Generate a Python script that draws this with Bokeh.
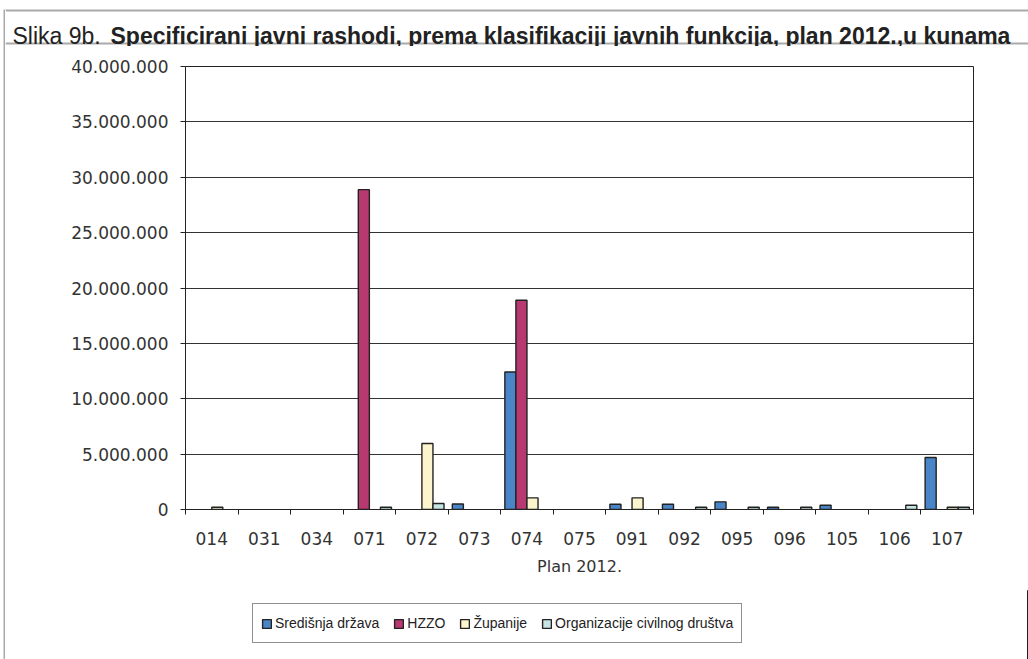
from bokeh.plotting import figure
from bokeh.layouts import column, row
from bokeh.models import (Range1d, FixedTicker, Legend, LegendItem, ColumnDataSource)
from bokeh.transform import dodge
from bokeh.core.properties import value
from bokeh.embed import file_html
from bokeh.resources import INLINE

# ---- data -------------------------------------------------------------
categories = ["014", "031", "034", "071", "072", "073", "074", "075",
              "091", "092", "095", "096", "105", "106", "107"]
sredisnja_drzava = [0, 0, 0, 0, 0, 500000, 12420000, 0,
                    480000, 480000, 690000, 200000, 390000, 0, 4690000]
hzzo = [0, 0, 0, 28880000, 0, 0, 18890000, 0,
        0, 0, 0, 0, 0, 0, 0]
zupanije = [200000, 0, 0, 0, 5960000, 0, 1050000, 0,
            1050000, 0, 0, 0, 0, 0, 200000]
organizacije = [0, 0, 0, 200000, 540000, 0, 0, 0,
                0, 200000, 200000, 200000, 0, 390000, 200000]
series_names = ["Središnja država", "HZZO", "Županije", "Organizacije civilnog društva"]
series_colors = ["#4a86c7", "#b8396f", "#fbf4cd", "#c6e4e2"]
y_ticks = [0, 5000000, 10000000, 15000000, 20000000, 25000000, 30000000, 35000000, 40000000]
x_axis_label = "Plan 2012."
title_prefix = "Slika 9b."
title_main = "Specificirani javni rashodi, prema klasifikaciji javnih funkcija, plan 2012.,u kunama"

W = 1028
H = 659
TITLE_H = 46
MAIN_H = 544
LEG_H = 69
STRIP_W = 5
CW = W - STRIP_W
gray = "#aaaaaa"
dark = "#222222"
sans = "Liberation Sans"


def blank(width, height, xr, yr):
    f = figure(width=width, height=height, output_backend="svg", toolbar_location=None,
               x_range=xr, y_range=yr, title=None,
               x_axis_type=None, y_axis_type=None, min_border=0,
               min_border_top=0, min_border_bottom=0, min_border_left=0, min_border_right=0)
    f.frame_align = False
    f.outline_line_color = None
    f.background_fill_color = "white"
    f.border_fill_color = "white"
    return f


# ---- left border strip (full height) ---------------------------------------
s = blank(STRIP_W, H, Range1d(0, STRIP_W), Range1d(H, 0))
s.quad(left=[3], right=[5], top=[9], bottom=[H], fill_color=gray, line_color=None)

# ---- title bar ----------------------------------------------------------
t = blank(CW, TITLE_H, Range1d(0, CW), Range1d(TITLE_H, 0))
t.quad(left=[0, 0], right=[CW, CW], top=[9, 42], bottom=[11, 44],
       fill_color=gray, line_color=None)
t.text(x=[7], y=[35], text=[title_prefix], text_font=value(sans), text_font_size="23px",
       text_color=dark, text_baseline="alphabetic", text_font_style="normal")
t.text(x=[105], y=[35], text=[title_main], text_font=value(sans), text_font_size="23px",
       text_color=dark, text_baseline="alphabetic", text_font_style="bold")

# ---- main chart -----------------------------------------------------------
n = len(categories)
p = figure(width=CW, height=MAIN_H, output_backend="svg", toolbar_location=None,
           x_range=Range1d(0, n), y_range=Range1d(0, 40000000), title=None,
           min_border_left=180, min_border_right=55, min_border_top=20, min_border_bottom=81)
p.frame_align = False
p.background_fill_color = "white"
p.border_fill_color = "white"
p.outline_line_color = dark
p.outline_line_width = 1

centers = [i + 0.5 for i in range(n)]
data = dict(x=centers)
all_series = [sredisnja_drzava, hzzo, zupanije, organizacije]
for k, ser in enumerate(all_series):
    data["s%d" % k] = [v if v else float("nan") for v in ser]
src = ColumnDataSource(data)

bar_w = 1 / 4.75
bar_kw = [dict(x=dodge("x", (k - 1.5) * bar_w, range=None), top="s%d" % k, bottom=0,
               width=bar_w, source=src, fill_color=series_colors[k],
               line_color=dark, line_width=1.4) for k in range(4)]
for kw in bar_kw:
    p.vbar(**kw)

xa = p.xaxis[0]
xa.ticker = FixedTicker(ticks=centers, minor_ticks=list(range(n + 1)))
xa.major_label_overrides = {c: lab for c, lab in zip(centers, categories)}
xa.major_tick_out = 0
xa.major_tick_in = 0
xa.minor_tick_out = 5
xa.minor_tick_in = 0
xa.minor_tick_line_color = dark
xa.axis_line_color = dark
xa.major_label_text_font = "DejaVu Sans"
xa.major_label_text_font_size = "17px"
xa.major_label_text_color = "#333333"
xa.major_label_standoff = 17
xa.axis_label = x_axis_label
xa.axis_label_text_font = "DejaVu Sans"
xa.axis_label_text_font_size = "16px"
xa.axis_label_text_font_style = "normal"
xa.axis_label_text_color = "#333333"
xa.axis_label_standoff = 9

ya = p.yaxis[0]
ya.ticker = FixedTicker(ticks=y_ticks, minor_ticks=[])
ya.major_label_overrides = {tk: f"{tk:,}".replace(",", ".") for tk in y_ticks}
ya.major_tick_out = 5
ya.major_tick_in = 0
ya.minor_tick_out = 0
ya.minor_tick_in = 0
ya.axis_line_color = dark
ya.major_tick_line_color = dark
ya.major_label_text_font = "DejaVu Sans"
ya.major_label_text_font_size = "17px"
ya.major_label_text_color = "#333333"
ya.major_label_standoff = 12

p.xgrid.visible = False
p.ygrid[0].ticker = FixedTicker(ticks=y_ticks)
p.ygrid.grid_line_color = "#333333"
p.ygrid.grid_line_width = 1

# ---- legend strip (same bar series, drawn out of view; only their legend swatches show)
lf = blank(CW, LEG_H, Range1d(-3, -2), Range1d(1, 0))
swatches = [lf.vbar(**kw) for kw in bar_kw]
legend = Legend(items=[LegendItem(label=series_names[k], renderers=[swatches[k]]) for k in range(4)],
                orientation="horizontal", location=(247, 16))
legend.border_line_color = dark
legend.border_line_width = 1
legend.background_fill_alpha = 1
legend.label_text_font = sans
legend.label_text_font_size = "14px"
legend.label_text_color = dark
legend.glyph_width = 11
legend.glyph_height = 11
legend.label_standoff = 3
legend.spacing = 14
legend.padding = 8
legend.margin = 0
legend.label_height = 22
lf.add_layout(legend, "center")

layout = row(s, column(t, p, lf, spacing=0), spacing=0)
open("out.html", "w").write(file_html(layout, INLINE))
